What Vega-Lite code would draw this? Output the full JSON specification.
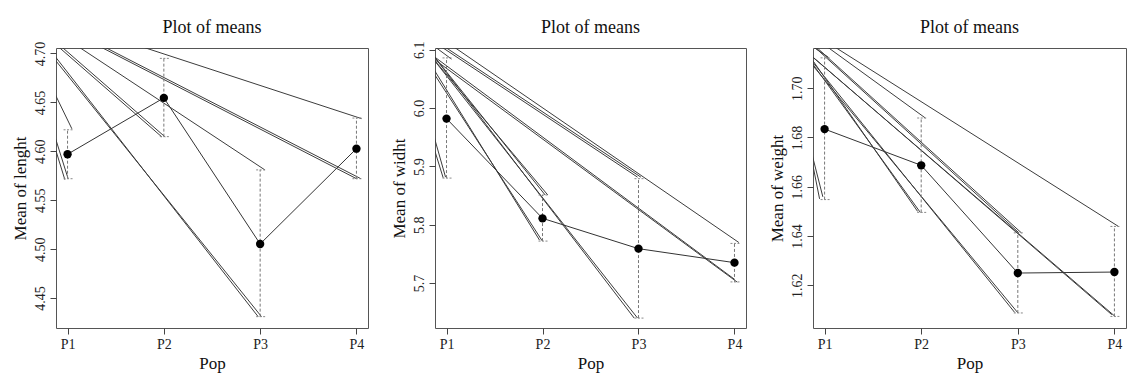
{
  "$schema": "https://vega.github.io/schema/vega-lite/v6.json",
  "background": "white",
  "padding": {"left": 10, "top": 18, "right": 2, "bottom": 5},
  "spacing": 67,
  "bounds": "flush",
  "datasets": {
    "means": [
      {"p": "A", "x": 1, "mean": 4.597, "lo": 4.572, "hi": 4.622},
      {"p": "A", "x": 2, "mean": 4.6546, "lo": 4.615, "hi": 4.695},
      {"p": "A", "x": 3, "mean": 4.5053, "lo": 4.431, "hi": 4.581},
      {"p": "A", "x": 4, "mean": 4.6027, "lo": 4.572, "hi": 4.634},
      {"p": "B", "x": 1, "mean": 5.982, "lo": 5.88, "hi": 6.086},
      {"p": "B", "x": 2, "mean": 5.811, "lo": 5.772, "hi": 5.851},
      {"p": "B", "x": 3, "mean": 5.759, "lo": 5.64, "hi": 5.879},
      {"p": "B", "x": 4, "mean": 5.735, "lo": 5.702, "hi": 5.768},
      {"p": "C", "x": 1, "mean": 1.6834, "lo": 1.6548, "hi": 1.7123},
      {"p": "C", "x": 2, "mean": 1.6687, "lo": 1.6496, "hi": 1.6879},
      {"p": "C", "x": 3, "mean": 1.625, "lo": 1.6088, "hi": 1.6413},
      {"p": "C", "x": 4, "mean": 1.6254, "lo": 1.6074, "hi": 1.6439}
    ],
    "segs": [
      {"p": "A", "x": 0.85, "y": 4.6625, "xe": 1.045, "ye": 4.623},
      {"p": "A", "x": 0.85, "y": 4.621, "xe": 1.006, "ye": 4.572},
      {"p": "A", "x": 0.85, "y": 4.61, "xe": 0.972, "ye": 4.571},
      {"p": "A", "x": 0.85, "y": 4.6996, "xe": 2.979, "ye": 4.431},
      {"p": "A", "x": 0.85, "y": 4.696, "xe": 3.014, "ye": 4.431},
      {"p": "A", "x": 0.85, "y": 4.7116, "xe": 1.979, "ye": 4.6147},
      {"p": "A", "x": 0.85, "y": 4.7144, "xe": 2.013, "ye": 4.6147},
      {"p": "A", "x": 1.024, "y": 4.7127, "xe": 3.049, "ye": 4.581},
      {"p": "A", "x": 1.239, "y": 4.712, "xe": 4.001, "ye": 4.572},
      {"p": "A", "x": 1.277, "y": 4.712, "xe": 4.046, "ye": 4.572},
      {"p": "A", "x": 1.672, "y": 4.7101, "xe": 4.053, "ye": 4.6334},
      {"p": "B", "x": 0.85, "y": 6.1086, "xe": 1.052, "ye": 6.084},
      {"p": "B", "x": 0.85, "y": 5.9627, "xe": 0.99, "ye": 5.8816},
      {"p": "B", "x": 0.85, "y": 5.9417, "xe": 0.965, "ye": 5.8805},
      {"p": "B", "x": 0.85, "y": 6.0928, "xe": 2.028, "ye": 5.851},
      {"p": "B", "x": 0.85, "y": 6.0869, "xe": 2.055, "ye": 5.851},
      {"p": "B", "x": 0.85, "y": 6.0711, "xe": 1.969, "ye": 5.7736},
      {"p": "B", "x": 0.85, "y": 6.0641, "xe": 1.997, "ye": 5.7724},
      {"p": "B", "x": 0.85, "y": 6.0927, "xe": 2.955, "ye": 5.64},
      {"p": "B", "x": 0.85, "y": 6.0866, "xe": 2.99, "ye": 5.64},
      {"p": "B", "x": 0.865, "y": 6.1139, "xe": 2.99, "ye": 5.8816},
      {"p": "B", "x": 0.9, "y": 6.1139, "xe": 3.025, "ye": 5.8816},
      {"p": "B", "x": 0.993, "y": 6.1143, "xe": 4.046, "ye": 5.7695},
      {"p": "B", "x": 0.85, "y": 6.0908, "xe": 4.001, "ye": 5.7064},
      {"p": "B", "x": 0.85, "y": 6.0862, "xe": 4.028, "ye": 5.7017},
      {"p": "C", "x": 0.85, "y": 1.7176, "xe": 1.04, "ye": 1.7125},
      {"p": "C", "x": 0.85, "y": 1.6762, "xe": 0.982, "ye": 1.6559},
      {"p": "C", "x": 0.85, "y": 1.6744, "xe": 0.948, "ye": 1.6551},
      {"p": "C", "x": 0.85, "y": 1.7128, "xe": 1.963, "ye": 1.65},
      {"p": "C", "x": 0.85, "y": 1.7113, "xe": 1.991, "ye": 1.6496},
      {"p": "C", "x": 0.945, "y": 1.7191, "xe": 2.043, "ye": 1.6879},
      {"p": "C", "x": 0.85, "y": 1.7119, "xe": 2.968, "ye": 1.609},
      {"p": "C", "x": 0.85, "y": 1.7105, "xe": 3.002, "ye": 1.6088},
      {"p": "C", "x": 0.806, "y": 1.7199, "xe": 3.012, "ye": 1.6413},
      {"p": "C", "x": 0.823, "y": 1.7199, "xe": 3.037, "ye": 1.6413},
      {"p": "C", "x": 0.85, "y": 1.7136, "xe": 3.973, "ye": 1.6081},
      {"p": "C", "x": 0.85, "y": 1.7135, "xe": 4.007, "ye": 1.6074},
      {"p": "C", "x": 1.021, "y": 1.7188, "xe": 4.042, "ye": 1.6439}
    ]
  },
  "hconcat": [
    {
      "width": 312, "height": 280,
      "title": {"text": "Plot of means", "offset": 4},
      "layer": [
        {"data": {"name": "segs"}, "transform": [{"filter": "datum.p === 'A'"}],
         "mark": {"type": "rule", "clip": true, "color": "#3c3c3c", "strokeWidth": 1},
         "encoding": {
           "x": {"field": "x", "type": "quantitative", "title": "Pop", "scale": {"domain": [0.88, 4.12], "nice": false, "zero": false}, "axis": {"values": [1, 2, 3, 4], "labelExpr": "'P' + datum.value"}},
           "y": {"field": "y", "type": "quantitative", "title": "Mean of lenght", "scale": {"domain": [4.4194, 4.7056], "nice": false, "zero": false}, "axis": {"values": [4.45, 4.5, 4.55, 4.6, 4.65, 4.7], "format": ".2f"}},
           "x2": {"field": "xe"}, "y2": {"field": "ye"}}},
        {"data": {"name": "means"}, "transform": [{"filter": "datum.p === 'A'"}],
         "mark": {"type": "rule", "color": "#777", "strokeDash": [3, 2], "strokeWidth": 1},
         "encoding": {
           "x": {"field": "x", "type": "quantitative", "title": "Pop", "scale": {"domain": [0.88, 4.12], "nice": false, "zero": false}},
           "y": {"field": "lo", "type": "quantitative", "title": "Mean of lenght", "scale": {"domain": [4.4194, 4.7056], "nice": false, "zero": false}},
           "y2": {"field": "hi"}}},
        {"data": {"name": "means"}, "transform": [{"filter": "datum.p === 'A'"}],
         "mark": {"type": "rule", "color": "#888", "strokeDash": [2, 1.5], "strokeWidth": 1, "xOffset": -4, "x2Offset": 5},
         "encoding": {
           "x": {"field": "x", "type": "quantitative", "title": "Pop", "scale": {"domain": [0.88, 4.12], "nice": false, "zero": false}},
           "x2": {"field": "x"},
           "y": {"field": "lo", "type": "quantitative", "title": "Mean of lenght", "scale": {"domain": [4.4194, 4.7056], "nice": false, "zero": false}}}},
        {"data": {"name": "means"}, "transform": [{"filter": "datum.p === 'A'"}],
         "mark": {"type": "rule", "color": "#888", "strokeDash": [2, 1.5], "strokeWidth": 1, "xOffset": -4, "x2Offset": 5},
         "encoding": {
           "x": {"field": "x", "type": "quantitative", "title": "Pop", "scale": {"domain": [0.88, 4.12], "nice": false, "zero": false}},
           "x2": {"field": "x"},
           "y": {"field": "hi", "type": "quantitative", "title": "Mean of lenght", "scale": {"domain": [4.4194, 4.7056], "nice": false, "zero": false}}}},
        {"data": {"name": "means"}, "transform": [{"filter": "datum.p === 'A'"}],
         "mark": {"type": "line", "color": "#333", "strokeWidth": 1},
         "encoding": {
           "x": {"field": "x", "type": "quantitative", "title": "Pop", "scale": {"domain": [0.88, 4.12], "nice": false, "zero": false}},
           "y": {"field": "mean", "type": "quantitative", "title": "Mean of lenght", "scale": {"domain": [4.4194, 4.7056], "nice": false, "zero": false}}}},
        {"data": {"name": "means"}, "transform": [{"filter": "datum.p === 'A'"}],
         "mark": {"type": "point", "filled": true, "color": "#000", "opacity": 1, "size": 70},
         "encoding": {
           "x": {"field": "x", "type": "quantitative", "title": "Pop", "scale": {"domain": [0.88, 4.12], "nice": false, "zero": false}},
           "y": {"field": "mean", "type": "quantitative", "title": "Mean of lenght", "scale": {"domain": [4.4194, 4.7056], "nice": false, "zero": false}}}}
      ]
    },
    {
      "width": 311, "height": 280,
      "title": {"text": "Plot of means", "offset": 4},
      "layer": [
        {"data": {"name": "segs"}, "transform": [{"filter": "datum.p === 'B'"}],
         "mark": {"type": "rule", "clip": true, "color": "#3c3c3c", "strokeWidth": 1},
         "encoding": {
           "x": {"field": "x", "type": "quantitative", "title": "Pop", "scale": {"domain": [0.88, 4.12], "nice": false, "zero": false}, "axis": {"values": [1, 2, 3, 4], "labelExpr": "'P' + datum.value"}},
           "y": {"field": "y", "type": "quantitative", "title": "Mean of widht", "scale": {"domain": [5.623, 6.103], "nice": false, "zero": false}, "axis": {"values": [5.7, 5.8, 5.9, 6.0, 6.1], "format": ".1f"}},
           "x2": {"field": "xe"}, "y2": {"field": "ye"}}},
        {"data": {"name": "means"}, "transform": [{"filter": "datum.p === 'B'"}],
         "mark": {"type": "rule", "color": "#777", "strokeDash": [3, 2], "strokeWidth": 1},
         "encoding": {
           "x": {"field": "x", "type": "quantitative", "title": "Pop", "scale": {"domain": [0.88, 4.12], "nice": false, "zero": false}},
           "y": {"field": "lo", "type": "quantitative", "title": "Mean of widht", "scale": {"domain": [5.623, 6.103], "nice": false, "zero": false}},
           "y2": {"field": "hi"}}},
        {"data": {"name": "means"}, "transform": [{"filter": "datum.p === 'B'"}],
         "mark": {"type": "rule", "color": "#888", "strokeDash": [2, 1.5], "strokeWidth": 1, "xOffset": -4, "x2Offset": 5},
         "encoding": {
           "x": {"field": "x", "type": "quantitative", "title": "Pop", "scale": {"domain": [0.88, 4.12], "nice": false, "zero": false}},
           "x2": {"field": "x"},
           "y": {"field": "lo", "type": "quantitative", "title": "Mean of widht", "scale": {"domain": [5.623, 6.103], "nice": false, "zero": false}}}},
        {"data": {"name": "means"}, "transform": [{"filter": "datum.p === 'B'"}],
         "mark": {"type": "rule", "color": "#888", "strokeDash": [2, 1.5], "strokeWidth": 1, "xOffset": -4, "x2Offset": 5},
         "encoding": {
           "x": {"field": "x", "type": "quantitative", "title": "Pop", "scale": {"domain": [0.88, 4.12], "nice": false, "zero": false}},
           "x2": {"field": "x"},
           "y": {"field": "hi", "type": "quantitative", "title": "Mean of widht", "scale": {"domain": [5.623, 6.103], "nice": false, "zero": false}}}},
        {"data": {"name": "means"}, "transform": [{"filter": "datum.p === 'B'"}],
         "mark": {"type": "line", "color": "#333", "strokeWidth": 1},
         "encoding": {
           "x": {"field": "x", "type": "quantitative", "title": "Pop", "scale": {"domain": [0.88, 4.12], "nice": false, "zero": false}},
           "y": {"field": "mean", "type": "quantitative", "title": "Mean of widht", "scale": {"domain": [5.623, 6.103], "nice": false, "zero": false}}}},
        {"data": {"name": "means"}, "transform": [{"filter": "datum.p === 'B'"}],
         "mark": {"type": "point", "filled": true, "color": "#000", "opacity": 1, "size": 70},
         "encoding": {
           "x": {"field": "x", "type": "quantitative", "title": "Pop", "scale": {"domain": [0.88, 4.12], "nice": false, "zero": false}},
           "y": {"field": "mean", "type": "quantitative", "title": "Mean of widht", "scale": {"domain": [5.623, 6.103], "nice": false, "zero": false}}}}
      ]
    },
    {
      "width": 313, "height": 280,
      "title": {"text": "Plot of means", "offset": 11},
      "layer": [
        {"data": {"name": "segs"}, "transform": [{"filter": "datum.p === 'C'"}],
         "mark": {"type": "rule", "clip": true, "color": "#3c3c3c", "strokeWidth": 1},
         "encoding": {
           "x": {"field": "x", "type": "quantitative", "title": "Pop", "scale": {"domain": [0.88, 4.12], "nice": false, "zero": false}, "axis": {"values": [1, 2, 3, 4], "labelExpr": "'P' + datum.value"}},
           "y": {"field": "y", "type": "quantitative", "title": "Mean of weight", "scale": {"domain": [1.6027, 1.7163], "nice": false, "zero": false}, "axis": {"values": [1.62, 1.64, 1.66, 1.68, 1.7], "format": ".2f"}},
           "x2": {"field": "xe"}, "y2": {"field": "ye"}}},
        {"data": {"name": "means"}, "transform": [{"filter": "datum.p === 'C'"}],
         "mark": {"type": "rule", "color": "#777", "strokeDash": [3, 2], "strokeWidth": 1},
         "encoding": {
           "x": {"field": "x", "type": "quantitative", "title": "Pop", "scale": {"domain": [0.88, 4.12], "nice": false, "zero": false}},
           "y": {"field": "lo", "type": "quantitative", "title": "Mean of weight", "scale": {"domain": [1.6027, 1.7163], "nice": false, "zero": false}},
           "y2": {"field": "hi"}}},
        {"data": {"name": "means"}, "transform": [{"filter": "datum.p === 'C'"}],
         "mark": {"type": "rule", "color": "#888", "strokeDash": [2, 1.5], "strokeWidth": 1, "xOffset": -4, "x2Offset": 5},
         "encoding": {
           "x": {"field": "x", "type": "quantitative", "title": "Pop", "scale": {"domain": [0.88, 4.12], "nice": false, "zero": false}},
           "x2": {"field": "x"},
           "y": {"field": "lo", "type": "quantitative", "title": "Mean of weight", "scale": {"domain": [1.6027, 1.7163], "nice": false, "zero": false}}}},
        {"data": {"name": "means"}, "transform": [{"filter": "datum.p === 'C'"}],
         "mark": {"type": "rule", "color": "#888", "strokeDash": [2, 1.5], "strokeWidth": 1, "xOffset": -4, "x2Offset": 5},
         "encoding": {
           "x": {"field": "x", "type": "quantitative", "title": "Pop", "scale": {"domain": [0.88, 4.12], "nice": false, "zero": false}},
           "x2": {"field": "x"},
           "y": {"field": "hi", "type": "quantitative", "title": "Mean of weight", "scale": {"domain": [1.6027, 1.7163], "nice": false, "zero": false}}}},
        {"data": {"name": "means"}, "transform": [{"filter": "datum.p === 'C'"}],
         "mark": {"type": "line", "color": "#333", "strokeWidth": 1},
         "encoding": {
           "x": {"field": "x", "type": "quantitative", "title": "Pop", "scale": {"domain": [0.88, 4.12], "nice": false, "zero": false}},
           "y": {"field": "mean", "type": "quantitative", "title": "Mean of weight", "scale": {"domain": [1.6027, 1.7163], "nice": false, "zero": false}}}},
        {"data": {"name": "means"}, "transform": [{"filter": "datum.p === 'C'"}],
         "mark": {"type": "point", "filled": true, "color": "#000", "opacity": 1, "size": 70},
         "encoding": {
           "x": {"field": "x", "type": "quantitative", "title": "Pop", "scale": {"domain": [0.88, 4.12], "nice": false, "zero": false}},
           "y": {"field": "mean", "type": "quantitative", "title": "Mean of weight", "scale": {"domain": [1.6027, 1.7163], "nice": false, "zero": false}}}}
      ]
    }
  ],
  "config": {
    "font": "Liberation Serif",
    "view": {"stroke": "#555", "strokeWidth": 1},
    "axis": {"domain": false, "grid": false, "ticks": true, "tickColor": "#444", "tickSize": 6,
             "labelFont": "Liberation Serif", "labelFontSize": 14, "labelColor": "#222", "labelPadding": 3,
             "labelFlush": false, "labelOverlap": false,
             "titleFont": "Liberation Serif", "titleFontSize": 17, "titleFontWeight": "normal", "titleColor": "#111", "titlePadding": 4},
    "axisY": {"labelAngle": -90, "labelAlign": "center", "labelBaseline": "bottom"},
    "title": {"font": "Liberation Serif", "fontSize": 18, "fontWeight": "normal", "color": "#111", "anchor": "middle"}
  }
}
